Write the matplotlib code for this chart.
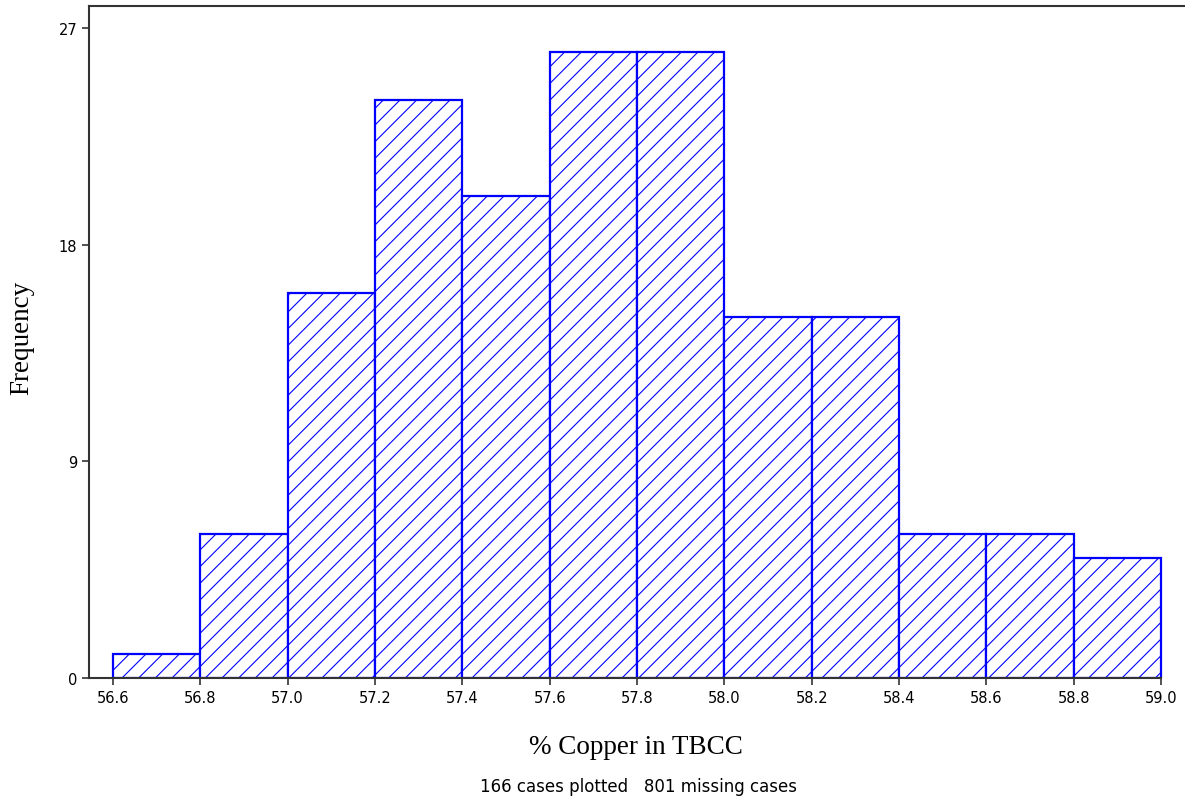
import matplotlib
matplotlib.use('Agg')
import matplotlib.pyplot as plt

bin_edges = [56.6, 56.8, 57.0, 57.2, 57.4, 57.6, 57.8, 58.0, 58.2, 58.4, 58.6, 58.8, 59.0]
counts = [1, 6, 16, 24, 20, 26, 26, 15, 15, 6, 6, 5]
x_ticks = [56.6, 56.8, 57.0, 57.2, 57.4, 57.6, 57.8, 58.0, 58.2, 58.4, 58.6, 58.8, 59.0]
y_ticks = [0, 9, 18, 27]

plt.rcParams['hatch.linewidth'] = 0.8
plt.rcParams['hatch.color'] = '#0000ff'

W, H = 1185, 803
fig = plt.figure(figsize=(W / 100, H / 100), dpi=100)
ax = fig.add_axes([89 / W, 1 - 679 / H, (1185 - 89) / W, (679 - 7) / H])

widths = [bin_edges[i + 1] - bin_edges[i] for i in range(len(counts))]
ax.bar(bin_edges[:-1], counts, width=widths, align='edge', facecolor='white',
       edgecolor='#0000ff', linewidth=1.6, hatch='//', zorder=2)

ax.set_xlim(56.545, 59.055)
ax.set_ylim(0, 27.91)
ax.set_xticks(x_ticks)
ax.set_xticklabels(['%.1f' % v for v in x_ticks])
ax.set_yticks(y_ticks)
ax.tick_params(direction='out', length=5, width=1.2, colors='#333333',
               labelsize=10.5, labelcolor='black')
for lab in ax.get_xticklabels() + ax.get_yticklabels():
    lab.set_family('DejaVu Sans')

ax.spines['right'].set_visible(False)
ax.spines['bottom'].set_bounds(56.545, 59.0)
for s in ['left', 'top', 'bottom']:
    ax.spines[s].set_linewidth(1.5)
    ax.spines[s].set_color('#333333')

fig.text(636 / W, 1 - 748 / H, '% Copper in TBCC', family='Liberation Serif',
         fontsize=19.5, ha='center', va='center')
fig.text(638 / W, 1 - 787 / H, '166 cases plotted   801 missing cases',
         family='DejaVu Sans', fontsize=12, ha='center', va='center')
fig.text(22 / W, 1 - 338 / H, 'Frequency', family='Liberation Serif',
         fontsize=19.5, rotation=90, ha='center', va='center')

fig.savefig('out.png', dpi=100)
